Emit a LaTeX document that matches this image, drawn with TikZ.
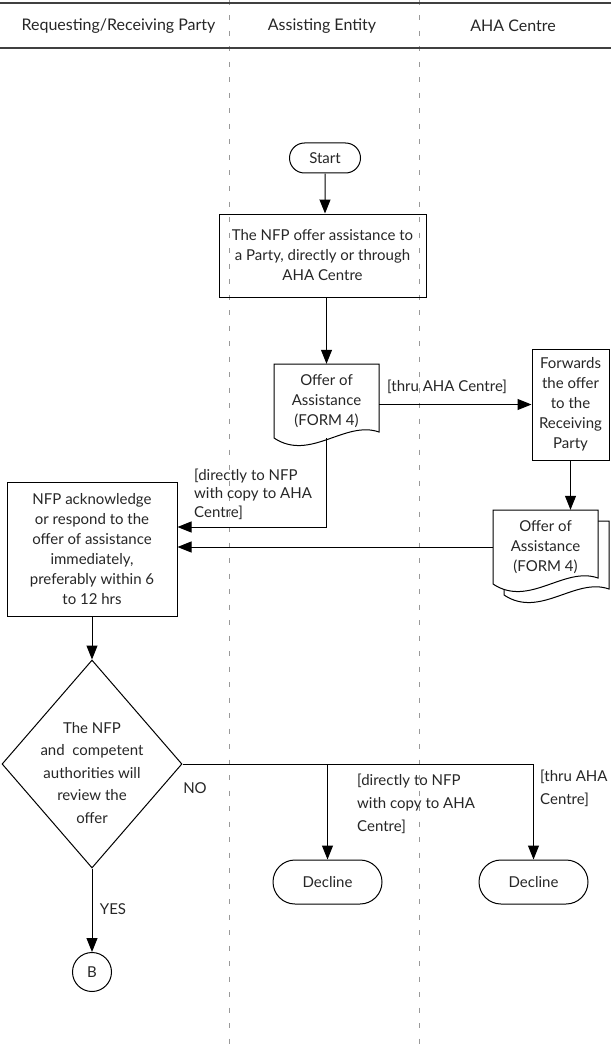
\documentclass[tikz,border=0pt]{standalone}
\usepackage{fontspec}
\setmainfont{Lato}
\usetikzlibrary{arrows.meta,shapes.geometric,shapes.misc,calc}
\begin{document}
\begin{tikzpicture}[x=1pt,y=-1pt,
  every node/.style={font=\fontsize{15}{20}\selectfont, text=black!85},
  box/.style={draw, line width=1pt, align=center, inner sep=0pt},
  term/.style={draw, line width=1pt, rounded rectangle, inner sep=0pt},
  arr/.style={-{Triangle[length=14pt,width=11pt]}, line width=1pt},
  conn/.style={line width=1pt},
  lane/.style={draw=black!40, line width=1pt, dash pattern=on 5pt off 10.5pt},
  hdr/.style={draw=black!75, line width=1.5pt},
  hdrtext/.style={font=\fontsize{16}{20}\selectfont},
  lbl/.style={align=left, inner sep=0pt, anchor=west},
  docline/.style={draw, fill=white, line width=1pt}
]
\useasboundingbox (0,0) rectangle (611,1051);

% lanes and header
\draw[lane] (229,0) -- (229,1051);
\draw[lane] (419,0) -- (419,1051);
\draw[hdr] (0,3) -- (611,3);
\draw[hdr] (0,48) -- (611,48);
\node[hdrtext] (h1) at (118.5,26) {Requesting/Receiving Party};
\node[hdrtext] (h2) at (322,26) {Assisting Entity};
\node[hdrtext] (h3) at (513,26) {AHA Centre};

% start and first box
\node[term, minimum width=71pt, minimum height=30pt] (start) at (325,158) {Start};
\node[box, minimum width=207pt, minimum height=83pt] (box1) at (322.5,255.5)
  {The NFP offer assistance to\\a Party, directly or through\\AHA Centre};

% document 1
\draw[docline] (274,364) -- (379,364) -- (379,432) .. controls (345,420) and (310,462) .. (274,438) -- cycle;
\node[inner sep=0pt, minimum width=105pt, minimum height=74pt, align=center] (doc1) at (326.5,401)
  {Offer of\\Assistance\\(FORM 4)};

% forwards box
\node[box, minimum width=77pt, minimum height=111pt] (fwd) at (570.5,404.5)
  {Forwards\\the offer\\to the\\Receiving\\Party};

% document 2 (multi)
\begin{scope}[shift={(230,157)}]
\draw[docline] (274,364) -- (379,364) -- (379,432) .. controls (345,420) and (310,462) .. (274,438) -- cycle;
\end{scope}
\begin{scope}[shift={(219,146)}]
\draw[docline] (274,364) -- (379,364) -- (379,432) .. controls (345,420) and (310,462) .. (274,438) -- cycle;
\end{scope}
\node[inner sep=0pt, minimum width=105pt, minimum height=74pt, align=center] (doc2) at (545.5,547)
  {Offer of\\Assistance\\(FORM 4)};

% NFP box
\node[box, minimum width=170pt, minimum height=134pt] (nfp) at (92,549)
  {NFP acknowledge\\or respond to the\\offer of assistance\\immediately,\\preferably within 6\\to 12 hrs};

% decision
\node[draw, diamond, line width=1pt, minimum width=180pt, minimum height=208pt, inner sep=0pt] (dec) at (92,764) {};
\node[align=center, inner sep=0pt, font=\fontsize{15}{22.5}\selectfont] (dect) at (92,773)
  {The NFP\\and \ competent\\authorities will\\review the\\offer};

% declines and connector
\node[term, minimum width=109pt, minimum height=44pt] (dec1) at (327.5,882) {Decline};
\node[term, minimum width=109pt, minimum height=44pt] (dec2) at (533.5,882) {Decline};
\node[circle, draw, line width=1pt, minimum size=39pt, inner sep=0pt] (b) at (92,972) {B};

% connectors
\draw[arr] (start) -- (start |- box1.north);
\draw[arr] (box1.south -| doc1.north) -- (doc1.north);
\draw[arr] (fwd.west -| doc1.east) -- (fwd.west);
\draw[arr] (fwd.south) -- (fwd.south |- doc2.north);
\draw[arr] (doc1.south) |- ($(nfp.east)+(0,-22)$);
\draw[arr] (doc2.west) -- (doc2.west -| nfp.east);
\draw[arr] (nfp.south) -- (dec.north);
\draw[conn] (dec.east) -- (dec.east -| dec2.north);
\draw[arr] (dec.east -| dec1.north) -- (dec1.north);
\draw[arr] (dec.east -| dec2.north) -- (dec2.north);
\draw[arr] (dec.south) -- (b.north);

% labels
\node[lbl] (l1) at (387,387) {[thru AHA Centre]};
\node[lbl, font=\fontsize{15}{18.5}\selectfont] (l2) at (194,494) {[directly to NFP\\with copy to AHA\\Centre]};
\node (lno) at (195,788) {NO};
\node (lyes) at (113,909) {YES};
\node[lbl, font=\fontsize{15}{23}\selectfont] (l3) at (357,804) {[directly to NFP\\with copy to AHA\\Centre]};
\node[lbl, font=\fontsize{15}{23}\selectfont] (l4) at (540,788.5) {[thru AHA\\Centre]};
\end{tikzpicture}
\end{document}
